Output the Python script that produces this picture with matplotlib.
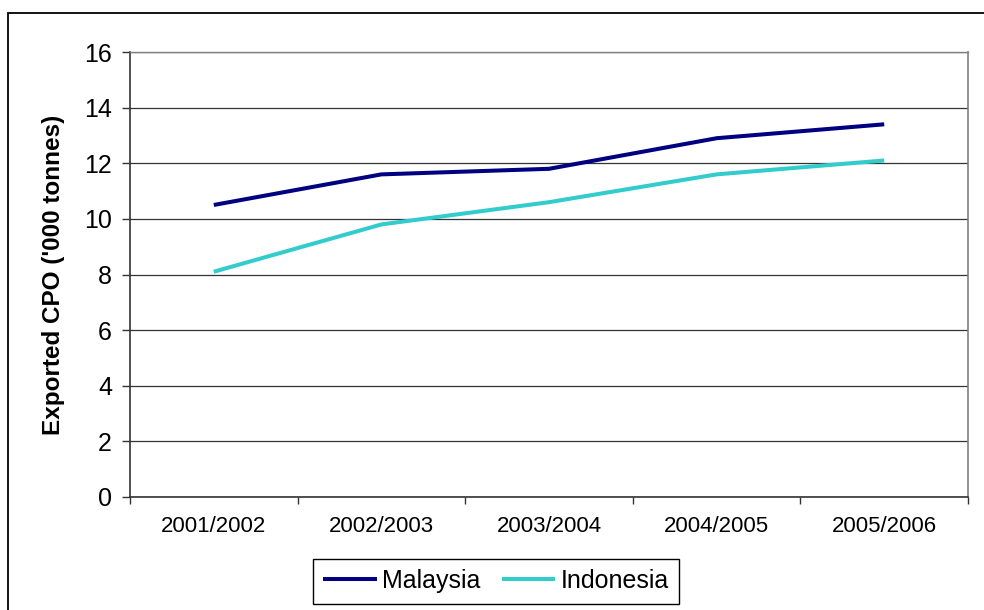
import matplotlib.pyplot as plt
from matplotlib.patches import Rectangle

plt.rcParams['font.family'] = ['Liberation Sans', 'DejaVu Sans']

seasons = ["2001/2002", "2002/2003", "2003/2004", "2004/2005", "2005/2006"]
malaysia = [10.5, 11.6, 11.8, 12.9, 13.4]
indonesia = [8.1, 9.8, 10.6, 11.6, 12.1]
y_ticks = [0, 2, 4, 6, 8, 10, 12, 14, 16]

fig = plt.figure(figsize=(9.84, 6.10), dpi=100)
ax = fig.add_axes([130 / 984, 1 - 497 / 610, 838 / 984, 445 / 610])

x = range(len(seasons))
ax.plot(x, malaysia, color='#000080', lw=2.9, label='Malaysia', solid_capstyle='butt')
ax.plot(x, indonesia, color='#33CCCC', lw=2.9, label='Indonesia', solid_capstyle='butt')

ax.set_xlim(-0.5, len(seasons) - 0.5)
ax.set_ylim(0, 16)
ax.set_yticks(y_ticks)
ax.yaxis.grid(True, color='#333333', lw=0.9)
ax.set_axisbelow(True)

# category boundaries get the tick marks, labels sit between them
ax.set_xticks([i - 0.5 for i in range(len(seasons) + 1)])
ax.set_xticklabels([])
ax.set_xticks(list(x), minor=True)
ax.set_xticklabels(seasons, minor=True, fontsize=16)
ax.tick_params(axis='x', which='major', length=5, width=1, color='#333333', direction='out')
ax.tick_params(axis='x', which='minor', length=0, pad=14)
ax.tick_params(axis='y', length=6, width=1, color='#333333', labelsize=18, pad=7)

for side in ['left', 'bottom']:
    ax.spines[side].set_color('#333333')
    ax.spines[side].set_linewidth(1.2)
ax.spines['right'].set_color('#808080')
ax.spines['right'].set_linewidth(1.2)
ax.spines['top'].set_color('#808080')
ax.spines['top'].set_linewidth(1.0)

ax.set_ylabel("Exported CPO ('000 tonnes)", fontsize=17.5, fontweight='bold')
ax.yaxis.set_label_coords(-0.077, 0.5)

leg = fig.legend(loc='center', bbox_to_anchor=(496 / 984, 1 - 581 / 610), ncol=2,
                 fontsize=18, frameon=True, fancybox=False, edgecolor='black',
                 framealpha=1, borderpad=0.42, handlelength=2.15, handletextpad=0.2,
                 columnspacing=0.85, borderaxespad=0)
leg.get_frame().set_linewidth(1.0)

# outer chart frame (runs off the right and bottom edges)
fig.patches.append(Rectangle((8 / 984, -0.1), 1.2, 1.1 - 13 / 610,
                             transform=fig.transFigure, fill=False,
                             edgecolor='black', lw=1.3))

fig.savefig('out.png', dpi=100)
